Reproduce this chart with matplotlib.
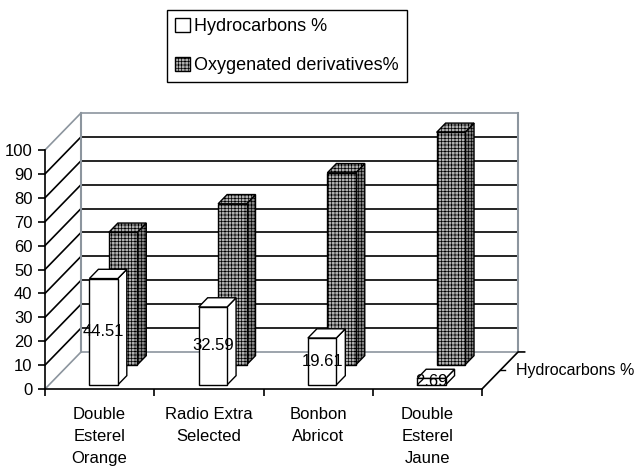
import numpy as np
import matplotlib
matplotlib.use('Agg')
import matplotlib.pyplot as plt
from matplotlib.patches import Polygon, Patch

plt.rcParams['font.family'] = ['Liberation Sans', 'DejaVu Sans']
plt.rcParams['hatch.linewidth'] = 0.5

categories = ['Double\nEsterel\nOrange', 'Radio Extra\nSelected', 'Bonbon\nAbricot', 'Double\nEsterel\nJaune']
hydrocarbons = [44.51, 32.59, 19.61, 2.69]
oxygenated = [55.49, 67.41, 80.39, 97.31]
labels_hc = ['44.51', '32.59', '19.61', '2.69']
yticks = np.arange(0, 101, 10)

# depth offset of the 3d box (data units)
DX = 0.33
DY = 15.5
HALF = 0.13
GRAY = '#8c959e'
FS = 12

fig = plt.figure(figsize=(6.43, 4.67), dpi=100)
ax = fig.add_axes([45 / 643, 78 / 467, 437 / 643, 239 / 467])
ax.set_xlim(0, 4)
ax.set_ylim(0, 100)
for s in ['top', 'right']:
    ax.spines[s].set_visible(False)
ax.spines['left'].set_linewidth(1.2)
ax.spines['bottom'].set_linewidth(1.2)
ax.spines['left'].set_zorder(6)
ax.spines['bottom'].set_zorder(6)
ax.patch.set_visible(False)

ax.set_yticks(yticks)
ax.tick_params(axis='y', direction='out', length=5, width=1.2, pad=4, labelsize=FS)
ax.set_xticks(np.arange(0, 5))
ax.set_xticklabels([])
ax.set_xticks(np.arange(len(categories)) + 0.5, minor=True)
ax.set_xticklabels(categories, minor=True, linespacing=1.6, fontsize=FS)
ax.tick_params(axis='x', which='major', direction='out', length=5, width=1.2)
ax.tick_params(axis='x', which='minor', length=0, pad=13)

# walls
for v in yticks:
    c = GRAY if v in (0, 100) else 'black'
    ax.plot([0, DX], [v, v + DY], color=c, lw=1.2, clip_on=False, zorder=1)
    ax.plot([DX, 4 + DX], [v + DY, v + DY], color=c, lw=1.2, clip_on=False, zorder=1)
ax.plot([DX, DX], [DY, 100 + DY], color=GRAY, lw=1.5, clip_on=False, zorder=1)
ax.plot([4 + DX, 4 + DX], [DY, 100 + DY], color=GRAY, lw=1.5, clip_on=False, zorder=1)

# floor right edge / depth axis
ax.plot([4, 4 + DX, 4 + DX + 0.06], [0, DY, DY], color='black', lw=1.2, clip_on=False, zorder=1)
ax.plot([4 + DX / 2, 4 + DX / 2 + 0.05], [DY / 2, DY / 2], color='black', lw=1.0, clip_on=False, zorder=1)
ax.text(4.31, DY / 2, 'Hydrocarbons %', ha='left', va='center', fontsize=11.5)


def bar3d(xc, h, d0, d1, face, side, hatch=None, z=2):
    ox0, oy0 = d0 * DX, d0 * DY
    ox1, oy1 = d1 * DX, d1 * DY
    l, r = xc - HALF, xc + HALF
    sidep = [(r + ox0, oy0), (r + ox1, oy1), (r + ox1, oy1 + h), (r + ox0, oy0 + h)]
    topp = [(l + ox0, oy0 + h), (r + ox0, oy0 + h), (r + ox1, oy1 + h), (l + ox1, oy1 + h)]
    frontp = [(l + ox0, oy0), (r + ox0, oy0), (r + ox0, oy0 + h), (l + ox0, oy0 + h)]
    for pts, fc in [(sidep, side), (topp, face), (frontp, face)]:
        ax.add_patch(Polygon(pts, closed=True, facecolor=fc, edgecolor='black',
                             lw=1.0, hatch=hatch, clip_on=False, zorder=z))


centers = np.arange(len(categories)) + 0.5
# back row first
for xc, v in zip(centers, oxygenated):
    bar3d(xc, v, 0.65, 0.9, '#b0b0b0', '#858585', hatch='+++++', z=2)
for xc, v, lab in zip(centers, hydrocarbons, labels_hc):
    bar3d(xc, v, 0.11, 0.36, 'white', 'white', z=3)
    ax.text(xc + 0.11 * DX, 0.11 * DY + v / 2, lab, ha='center', va='center',
            fontsize=FS, zorder=5, clip_on=False)

handles = [Patch(facecolor='white', edgecolor='black', lw=1.0),
           Patch(facecolor='#b0b0b0', edgecolor='black', hatch='+++++', lw=1.0)]
fig.legend(handles, ['Hydrocarbons %', 'Oxygenated derivatives%'],
           loc='upper left', bbox_to_anchor=(167 / 643, 1 - 10 / 467),
           fontsize=13, frameon=True, fancybox=False, edgecolor='black',
           framealpha=1, borderpad=0.45, labelspacing=1.2, handlelength=0.8,
           handleheight=0.8, handletextpad=0.25, borderaxespad=0)

fig.savefig('out.png', dpi=100)
